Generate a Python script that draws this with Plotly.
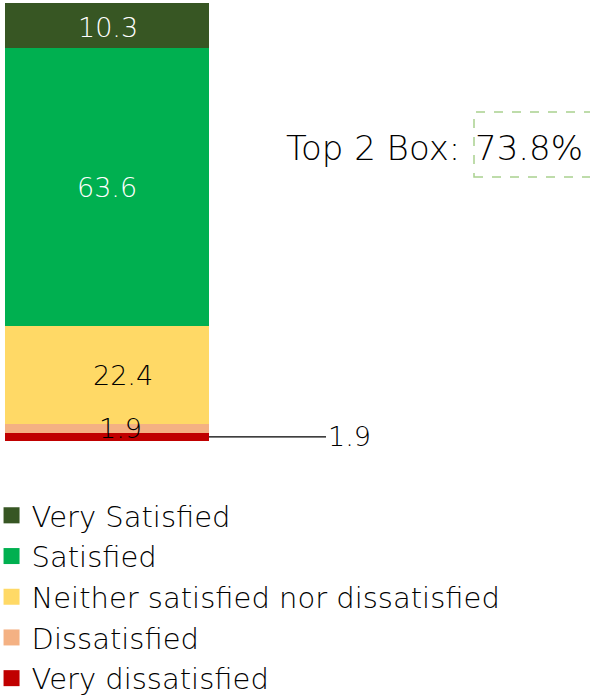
import plotly.graph_objects as go

# ---- data ----
categories = ["Very dissatisfied", "Dissatisfied", "Neither satisfied nor dissatisfied",
              "Satisfied", "Very Satisfied"]
values = [1.9, 1.9, 22.4, 63.6, 10.3]
top2_label = "Top 2 Box:"
top2_value = "73.8%"

# ---- style ----
colors = ["#C00000", "#F4B183", "#FFD966", "#00B050", "#375623"]
text_colors = ["#000000", "#000000", "#000000", "#FFFFFF", "#FFFFFF"]
label_xshift = [0, 13, 16, 0, 1]
label_yshift = [0, 0, 0, 0, -2]
FONT = "DejaVu Sans"
WEIGHT = 300

W, H = 590, 698
ML, MT = 5, 3
PLOT_BOTTOM = 441
BAR_PX = 204
plot_w = W - ML
plot_h = PLOT_BOTTOM - MT
total = sum(values)

fig = go.Figure()
for cat, v, c in zip(categories, values, colors):
    fig.add_trace(go.Bar(x=[0], y=[v], name=cat, marker=dict(color=c, line=dict(width=0)),
                         width=1, showlegend=False, hoverinfo="name+y"))

# legend entries (top to bottom order)
for cat, c in reversed(list(zip(categories, colors))):
    fig.add_trace(go.Scatter(x=[None], y=[None], mode="markers", name=cat,
                             marker=dict(symbol="square", size=16, color=c)))

# labels
annotations = []
cum = 0
for i, (v, tc) in enumerate(zip(values, text_colors)):
    mid = cum + v / 2
    if i == 0:
        annotations.append(dict(x=0.5, y=mid, xref="x", yref="y", text=f"{v:.1f}",
                                showarrow=True, arrowhead=0, arrowwidth=1.2, arrowcolor="#000000",
                                ax=140, ay=0, xanchor="center",
                                font=dict(family=FONT, size=27, color=tc, weight=WEIGHT)))
    else:
        annotations.append(dict(x=0, y=mid, xref="x", yref="y", text=f"{v:.1f}",
                                showarrow=False, xshift=label_xshift[i], yshift=label_yshift[i],
                                font=dict(family=FONT, size=27, color=tc, weight=WEIGHT)))
    cum += v

annotations.append(dict(x=(462 - ML) / plot_w, y=(PLOT_BOTTOM - 148) / plot_h,
                        xref="paper", yref="paper", text=top2_label, showarrow=False,
                        xanchor="right", yanchor="middle",
                        font=dict(family=FONT, size=34, color="#000000", weight=WEIGHT)))
annotations.append(dict(x=(473 - ML) / plot_w, y=(PLOT_BOTTOM - 148) / plot_h,
                        xref="paper", yref="paper", text=top2_value, showarrow=False,
                        xanchor="left", yanchor="middle",
                        font=dict(family=FONT, size=34, color="#000000", weight=WEIGHT)))

shapes = [dict(type="rect", xref="paper", yref="paper",
               x0=(474 - ML) / plot_w, x1=(600 - ML) / plot_w,
               y0=(PLOT_BOTTOM - 177) / plot_h, y1=(PLOT_BOTTOM - 112) / plot_h,
               line=dict(color="#A9D18E", width=1.5, dash="dash"), fillcolor="rgba(0,0,0,0)")]

fig.update_layout(
    width=W, height=H,
    margin=dict(l=ML, r=0, t=MT, b=H - PLOT_BOTTOM, autoexpand=False),
    barmode="stack",
    paper_bgcolor="white", plot_bgcolor="white",
    xaxis=dict(range=[-0.5, -0.5 + plot_w / BAR_PX], visible=False, fixedrange=True),
    yaxis=dict(range=[0, total], visible=False, fixedrange=True),
    showlegend=True,
    legend=dict(orientation="v", x=-0.023, xanchor="left", y=(PLOT_BOTTOM - 490) / plot_h,
                yanchor="top", traceorder="normal",
                font=dict(family=FONT, size=29, color="#000000", weight=WEIGHT),
                bgcolor="rgba(0,0,0,0)", tracegroupgap=0, itemclick=False),
    annotations=annotations,
    shapes=shapes,
    font=dict(family=FONT),
)

fig.write_html("out.html", config={"displayModeBar": False},
               post_script="document.body.style.margin='0';")
